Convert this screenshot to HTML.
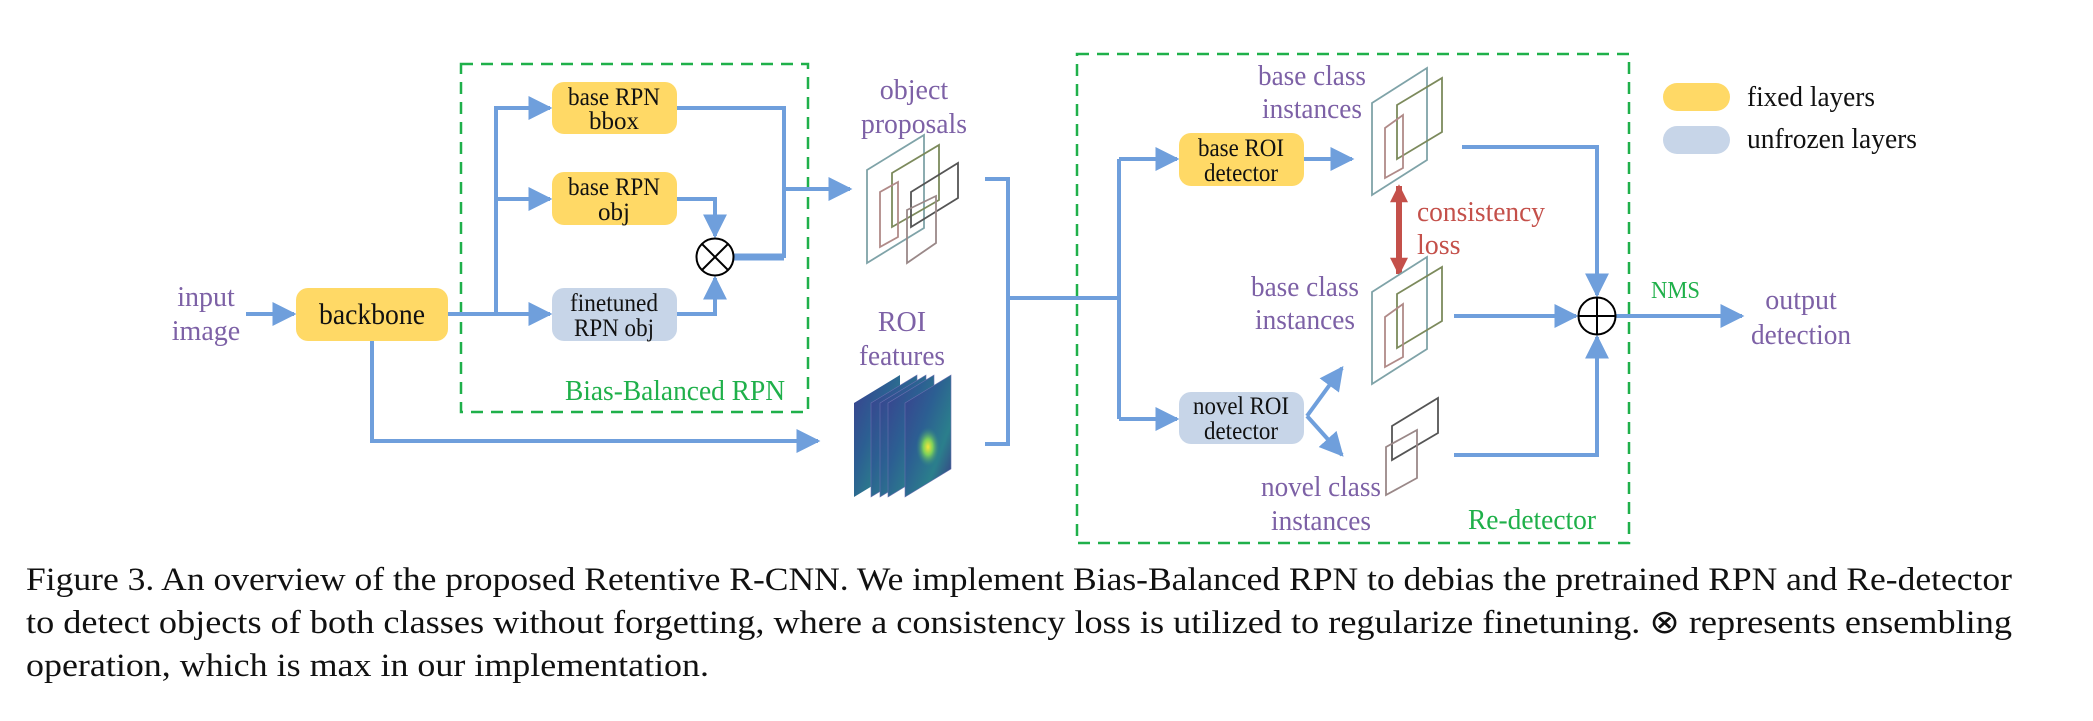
<!DOCTYPE html>
<html><head><meta charset="utf-8"><style>
html,body{margin:0;padding:0;background:#fff;}
svg{display:block;}
text{font-family:"Liberation Serif","Times New Roman",serif;}
.p{fill:#7d61a6;}
.b{fill:#111;}
</style></head><body>
<svg width="2093" height="721" viewBox="0 0 2093 721" xmlns="http://www.w3.org/2000/svg" font-family="'Liberation Serif', 'Times New Roman', serif">
<defs>
<marker id="ah" viewBox="0 0 10 10" refX="9" refY="5" markerWidth="6" markerHeight="6.5" markerUnits="strokeWidth" orient="auto">
<path d="M0,0 L10,5 L0,10 z" fill="#6f9fdc"/></marker>
<marker id="rh" viewBox="0 0 10 10" refX="9" refY="5" markerWidth="4" markerHeight="3" markerUnits="strokeWidth" orient="auto-start-reverse">
<path d="M0,0 L10,5 L0,10 z" fill="#c4504a"/></marker>
<linearGradient id="fm" x1="0" y1="0" x2="1" y2="1">
<stop offset="0" stop-color="#3b3f8f"/><stop offset="0.4" stop-color="#2c5f92"/><stop offset="0.7" stop-color="#2b7f8c"/><stop offset="1" stop-color="#3a3484"/></linearGradient>
<radialGradient id="hot" cx="0.5" cy="0.5" r="0.5"><stop offset="0" stop-color="#f4e83a"/><stop offset="0.4" stop-color="#7dd05a"/><stop offset="1" stop-color="#2b7f8c" stop-opacity="0"/></radialGradient>
</defs>

<rect x="461" y="64" width="347" height="348" fill="none" stroke="#1fb04a" stroke-width="2.5" stroke-dasharray="12,8"/>
<rect x="1077" y="54" width="552" height="489" fill="none" stroke="#1fb04a" stroke-width="2.5" stroke-dasharray="12,8"/>

<g stroke="#6f9fdc" stroke-width="4" fill="none">
<line x1="246" y1="314" x2="294" y2="314" marker-end="url(#ah)"/>
<polyline points="448,314 496,314"/>
<polyline points="496,314 496,108 550,108" marker-end="url(#ah)"/>
<line x1="496" y1="199" x2="550" y2="199" marker-end="url(#ah)"/>
<line x1="496" y1="314" x2="550" y2="314" marker-end="url(#ah)"/>
<polyline points="677,108 784,108 784,258"/>
<polyline points="677,199 715,199 715,236" marker-end="url(#ah)"/>
<polyline points="677,314 715,314 715,278" marker-end="url(#ah)"/>
<line x1="734" y1="257" x2="784" y2="257" stroke-width="7"/>
<line x1="784" y1="189" x2="850" y2="189" marker-end="url(#ah)"/>
<polyline points="372,341 372,441 818,441" marker-end="url(#ah)"/>
<polyline points="985,179 1008,179 1008,444 985,444"/>
<polyline points="1008,298 1119,298"/>
<polyline points="1119,159 1119,419"/>
<line x1="1119" y1="159" x2="1177" y2="159" marker-end="url(#ah)"/>
<line x1="1119" y1="419" x2="1177" y2="419" marker-end="url(#ah)"/>
<line x1="1304" y1="159" x2="1352" y2="159" marker-end="url(#ah)"/>
<polyline points="1462,147 1597,147 1597,295" marker-end="url(#ah)"/>
<line x1="1454" y1="316" x2="1576" y2="316" marker-end="url(#ah)"/>
<polyline points="1454,455 1597,455 1597,337" marker-end="url(#ah)"/>
<line x1="1307" y1="416" x2="1342" y2="368" marker-end="url(#ah)"/>
<line x1="1307" y1="416" x2="1342" y2="455" marker-end="url(#ah)"/>
<line x1="1616" y1="316" x2="1742" y2="316" marker-end="url(#ah)"/>
</g>

<g stroke="#000" stroke-width="2" fill="#fff">
<circle cx="715" cy="257" r="18.5"/>
<line x1="702" y1="244" x2="728" y2="270"/><line x1="728" y1="244" x2="702" y2="270"/>
<circle cx="1597" cy="316" r="18.5"/>
<line x1="1578.5" y1="316" x2="1615.5" y2="316"/><line x1="1597" y1="297.5" x2="1597" y2="334.5"/>
</g>

<rect x="296" y="288" width="152" height="53" rx="12" fill="#ffd966"/>
<rect x="552" y="82" width="125" height="52" rx="12" fill="#ffd966"/>
<rect x="552" y="172" width="125" height="53" rx="12" fill="#ffd966"/>
<rect x="552" y="288" width="125" height="53" rx="12" fill="#c7d5e8"/>
<rect x="1179" y="133" width="125" height="53" rx="12" fill="#ffd966"/>
<rect x="1179" y="392" width="125" height="52" rx="12" fill="#c7d5e8"/>
<rect x="1663" y="83" width="67" height="28" rx="14" fill="#ffd966"/>
<rect x="1663" y="126" width="67" height="28" rx="14" fill="#c7d5e8"/>

<g class="b" text-anchor="middle">
<text x="372" y="324" font-size="30" textLength="106" lengthAdjust="spacingAndGlyphs">backbone</text>
<text x="614" y="105" font-size="25" textLength="92" lengthAdjust="spacingAndGlyphs">base RPN</text><text x="614" y="129" font-size="25">bbox</text>
<text x="614" y="195" font-size="25" textLength="92" lengthAdjust="spacingAndGlyphs">base RPN</text><text x="614" y="220" font-size="25">obj</text>
<text x="614" y="311" font-size="25" textLength="88" lengthAdjust="spacingAndGlyphs">finetuned</text><text x="614" y="336" font-size="25" textLength="80" lengthAdjust="spacingAndGlyphs">RPN obj</text>
<text x="1241" y="156" font-size="25" textLength="86" lengthAdjust="spacingAndGlyphs">base ROI</text><text x="1241" y="181" font-size="25" textLength="74" lengthAdjust="spacingAndGlyphs">detector</text>
<text x="1241" y="414" font-size="25" textLength="96" lengthAdjust="spacingAndGlyphs">novel ROI</text><text x="1241" y="439" font-size="25" textLength="74" lengthAdjust="spacingAndGlyphs">detector</text>
</g>
<text x="1747" y="106" font-size="29" class="b" textLength="128" lengthAdjust="spacingAndGlyphs">fixed layers</text>
<text x="1747" y="148" font-size="29" class="b" textLength="170" lengthAdjust="spacingAndGlyphs">unfrozen layers</text>

<g class="p" text-anchor="middle" font-size="28">
<text x="206" y="306">input</text><text x="206" y="340">image</text>
<text x="914" y="99">object</text><text x="914" y="133" textLength="106" lengthAdjust="spacingAndGlyphs">proposals</text>
<text x="902" y="331">ROI</text><text x="902" y="365" textLength="86" lengthAdjust="spacingAndGlyphs">features</text>
<text x="1312" y="85" textLength="108" lengthAdjust="spacingAndGlyphs">base class</text><text x="1312" y="118" textLength="100" lengthAdjust="spacingAndGlyphs">instances</text>
<text x="1305" y="296" textLength="108" lengthAdjust="spacingAndGlyphs">base class</text><text x="1305" y="329" textLength="100" lengthAdjust="spacingAndGlyphs">instances</text>
<text x="1321" y="496" textLength="120" lengthAdjust="spacingAndGlyphs">novel class</text><text x="1321" y="530" textLength="100" lengthAdjust="spacingAndGlyphs">instances</text>
<text x="1801" y="309">output</text><text x="1801" y="344" textLength="100" lengthAdjust="spacingAndGlyphs">detection</text>
</g>
<g fill="#1fb04a">
<text x="565" y="400" font-size="28" textLength="220" lengthAdjust="spacingAndGlyphs">Bias-Balanced RPN</text>
<text x="1468" y="529" font-size="28" textLength="128" lengthAdjust="spacingAndGlyphs">Re-detector</text>
<text x="1651" y="298" font-size="24" textLength="49" lengthAdjust="spacingAndGlyphs">NMS</text>
</g>
<g fill="#c4504a" font-size="28">
<text x="1417" y="221" textLength="128" lengthAdjust="spacingAndGlyphs">consistency</text><text x="1417" y="254">loss</text>
</g>
<line x1="1399" y1="186" x2="1399" y2="274" stroke="#c4504a" stroke-width="6" marker-start="url(#rh)" marker-end="url(#rh)"/>

<g fill="none" stroke-width="1.8">
<polygon points="867,170 924,135 924,228 867,263" stroke="#7fa3a8"/>
<polygon points="892,173 939,145 939,200 892,227" stroke="#7c8a5c"/>
<polygon points="880,192 898,182 898,237 880,247" stroke="#b08a88"/>
<polygon points="911,192 958,163 958,198 911,227" stroke="#555"/>
<polygon points="907,210 936,196 936,243 907,263" stroke="#9a8888"/>
<polygon points="1372,103 1427,68 1427,160 1372,195" stroke="#7fa3a8"/>
<polygon points="1397,105 1442,78 1442,132 1397,159" stroke="#7c8a5c"/>
<polygon points="1385,128 1403,115 1403,168 1385,178" stroke="#b08a88"/>
<polygon points="1372,292 1427,257 1427,349 1372,384" stroke="#7fa3a8"/>
<polygon points="1397,294 1442,267 1442,321 1397,348" stroke="#7c8a5c"/>
<polygon points="1385,317 1403,304 1403,357 1385,367" stroke="#b08a88"/>
<polygon points="1392,426 1438,398 1438,433 1392,460" stroke="#555"/>
<polygon points="1386,447 1417,430 1417,478 1386,495" stroke="#9a8888"/>
</g>

<g>
<polygon points="854,403 900,375 900,469 854,497" fill="url(#fm)"/>
<polygon points="871,403 917,375 917,469 871,497" fill="url(#fm)" stroke="#6a70b0" stroke-width="0.6"/>
<polygon points="880,403 926,375 926,469 880,497" fill="url(#fm)" stroke="#6a70b0" stroke-width="0.6"/>
<polygon points="888,403 934,375 934,469 888,497" fill="url(#fm)" stroke="#6a70b0" stroke-width="0.6"/>
<polygon points="905,403 951,375 951,469 905,497" fill="url(#fm)" stroke="#6a70b0" stroke-width="0.6"/>
<ellipse cx="928" cy="447" rx="12" ry="20" fill="url(#hot)"/>
</g>

<g class="b" font-size="33">
<text x="26" y="590" textLength="1986" lengthAdjust="spacingAndGlyphs">Figure 3. An overview of the proposed Retentive R-CNN. We implement Bias-Balanced RPN to debias the pretrained RPN and Re-detector</text>
<text x="26" y="633" textLength="1986" lengthAdjust="spacingAndGlyphs">to detect objects of both classes without forgetting, where a consistency loss is utilized to regularize finetuning. ⊗ represents ensembling</text>
<text x="26" y="676" textLength="683" lengthAdjust="spacingAndGlyphs">operation, which is max in our implementation.</text>
</g>
</svg>
</body></html>
